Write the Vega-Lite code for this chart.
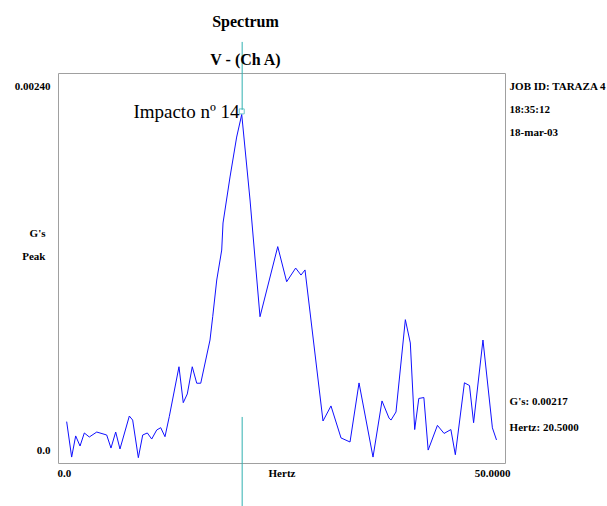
{
  "$schema": "https://vega.github.io/schema/vega-lite/v6.json",
  "autosize": "none",
  "width": 447,
  "height": 390,
  "padding": {"left": 58, "top": 73, "right": 102, "bottom": 43},
  "background": "white",
  "config": {
    "view": {"stroke": "#a0a0a0", "strokeWidth": 1},
    "font": "Liberation Serif"
  },
  "title": {
    "text": "Spectrum",
    "subtitle": "V  - (Ch A)",
    "anchor": "middle",
    "frame": "group",
    "dx": -36,
    "dy": 31,
    "offset": 4,
    "font": "Liberation Serif",
    "fontSize": 16,
    "fontWeight": "bold",
    "color": "black",
    "subtitleFont": "Liberation Serif",
    "subtitleFontSize": 16,
    "subtitleFontWeight": "bold",
    "subtitleColor": "black",
    "subtitlePadding": 22
  },
  "datasets": {
    "spectrum": [
      {"hz": 0.42, "g": 0.000234},
      {"hz": 0.99, "g": 0.000006},
      {"hz": 1.45, "g": 0.000142},
      {"hz": 1.95, "g": 0.000077},
      {"hz": 2.44, "g": 0.000161},
      {"hz": 3.01, "g": 0.000135},
      {"hz": 3.86, "g": 0.000167},
      {"hz": 5.0, "g": 0.000148},
      {"hz": 5.49, "g": 0.000064},
      {"hz": 6.03, "g": 0.000167},
      {"hz": 6.52, "g": 0.000058},
      {"hz": 7.59, "g": 0.00027},
      {"hz": 7.97, "g": 0.000244},
      {"hz": 8.62, "g": 0.000002},
      {"hz": 9.12, "g": 0.000148},
      {"hz": 9.65, "g": 0.000161},
      {"hz": 10.15, "g": 0.000122},
      {"hz": 10.72, "g": 0.00018},
      {"hz": 11.18, "g": 0.000195},
      {"hz": 11.67, "g": 0.000137},
      {"hz": 12.16, "g": 0.000266},
      {"hz": 13.27, "g": 0.000587},
      {"hz": 13.76, "g": 0.000356},
      {"hz": 14.22, "g": 0.000412},
      {"hz": 14.79, "g": 0.000587},
      {"hz": 15.3, "g": 0.000481},
      {"hz": 15.76, "g": 0.000481},
      {"hz": 16.82, "g": 0.000759},
      {"hz": 17.13, "g": 0.000909},
      {"hz": 17.59, "g": 0.001145},
      {"hz": 18.16, "g": 0.001338},
      {"hz": 18.31, "g": 0.001512},
      {"hz": 19.11, "g": 0.001808},
      {"hz": 19.87, "g": 0.002065},
      {"hz": 20.45, "g": 0.00221},
      {"hz": 21.4, "g": 0.00166},
      {"hz": 22.54, "g": 0.000909},
      {"hz": 24.57, "g": 0.00136},
      {"hz": 25.59, "g": 0.001134},
      {"hz": 26.62, "g": 0.001222},
      {"hz": 27.23, "g": 0.001177},
      {"hz": 27.69, "g": 0.00121},
      {"hz": 29.75, "g": 0.000238},
      {"hz": 30.66, "g": 0.000335},
      {"hz": 31.81, "g": 0.000129},
      {"hz": 32.84, "g": 0.000103},
      {"hz": 33.87, "g": 0.000483},
      {"hz": 35.47, "g": 0.000006},
      {"hz": 36.5, "g": 0.000367},
      {"hz": 37.3, "g": 0.000257},
      {"hz": 37.53, "g": 0.000244},
      {"hz": 38.1, "g": 0.000296},
      {"hz": 39.17, "g": 0.00089},
      {"hz": 39.74, "g": 0.00074},
      {"hz": 40.24, "g": 0.000183},
      {"hz": 40.71, "g": 0.000383},
      {"hz": 41.29, "g": 0.000389},
      {"hz": 41.78, "g": 0.000051},
      {"hz": 42.84, "g": 0.00021},
      {"hz": 43.6, "g": 0.000158},
      {"hz": 44.38, "g": 0.000183},
      {"hz": 44.89, "g": 0.000021},
      {"hz": 45.93, "g": 0.000484},
      {"hz": 46.51, "g": 0.000466},
      {"hz": 46.98, "g": 0.000227},
      {"hz": 48.05, "g": 0.000759},
      {"hz": 49.13, "g": 0.000194},
      {"hz": 49.6, "g": 0.000116}
    ],
    "cursor": [
      {"hz": 20.5, "g1": 0.002677, "g2": 0.00224},
      {"hz": 20.5, "g1": 0.000264, "g2": -0.000309}
    ],
    "info": [
      {"label": "JOB ID: TARAZA 4", "g": 0.002387},
      {"label": "18:35:12", "g": 0.002239},
      {"label": "18-mar-03", "g": 0.002091},
      {"label": "G's: 0.00217", "g": 0.00036},
      {"label": "Hertz: 20.5000", "g": 0.000193}
    ],
    "note": [
      {"label": "Impacto nº 14", "hz": 20.2, "g": 0.002226}
    ],
    "marker": [
      {"hz": 20.45, "g": 0.00223}
    ]
  },
  "layer": [
    {
      "data": {"name": "spectrum"},
      "mark": {"type": "line", "color": "#1010ff", "strokeWidth": 1},
      "encoding": {
        "x": {
          "field": "hz",
          "type": "quantitative",
          "scale": {"domain": [-0.572, 50.572], "nice": false, "zero": false},
          "axis": {
            "values": [0, 50],
            "labelExpr": "datum.value == 0 ? '0.0' : '50.0000'",
            "title": "Hertz",
            "titleFont": "Liberation Serif",
            "titleFontSize": 11,
            "titleFontWeight": "bold",
            "titleColor": "black",
            "titleBaseline": "top",
            "titleY": 4,
            "labelFont": "Liberation Serif",
            "labelFontSize": 11,
            "labelFontWeight": "bold",
            "labelColor": "black",
            "labelBaseline": "top",
            "labelPadding": 4,
            "labelOffset": {"condition": {"test": "datum.value == 50", "value": -8}, "value": 1},
            "ticks": false,
            "domain": false,
            "grid": false
          }
        },
        "y": {
          "field": "g",
          "type": "quantitative",
          "scale": {"domain": [-0.0000322, 0.002477], "nice": false, "zero": false},
          "axis": {
            "values": [0, 0.0024],
            "labelExpr": "datum.value == 0 ? '0.0' : '0.00240'",
            "title": ["G's", "Peak"],
            "titleAngle": 0,
            "titleAlign": "right",
            "titleBaseline": "middle",
            "titleX": -13,
            "titleY": 160,
            "titleLineHeight": 23,
            "titleFont": "Liberation Serif",
            "titleFontSize": 11,
            "titleFontWeight": "bold",
            "titleColor": "black",
            "labelFont": "Liberation Serif",
            "labelFontSize": 11,
            "labelFontWeight": "bold",
            "labelColor": "black",
            "labelPadding": 8,
            "labelOffset": {"condition": {"test": "datum.value == 0", "value": -7}, "value": 2},
            "ticks": false,
            "domain": false,
            "grid": false
          }
        }
      }
    },
    {
      "data": {"name": "cursor"},
      "mark": {"type": "rule", "color": "#2fb0b0", "strokeWidth": 1},
      "encoding": {
        "x": {"field": "hz", "type": "quantitative"},
        "y": {"field": "g1", "type": "quantitative"},
        "y2": {"field": "g2"}
      }
    },
    {
      "data": {"name": "marker"},
      "mark": {"type": "point", "shape": "square", "size": 25, "filled": false, "color": "#2fb0b0", "strokeWidth": 1},
      "encoding": {
        "x": {"field": "hz", "type": "quantitative"},
        "y": {"field": "g", "type": "quantitative"}
      }
    },
    {
      "data": {"name": "note"},
      "mark": {"type": "text", "align": "right", "baseline": "middle", "font": "Liberation Serif", "fontSize": 19, "color": "black"},
      "encoding": {
        "x": {"field": "hz", "type": "quantitative"},
        "y": {"field": "g", "type": "quantitative"},
        "text": {"field": "label"}
      }
    },
    {
      "data": {"name": "info"},
      "mark": {"type": "text", "align": "left", "baseline": "middle", "font": "Liberation Serif", "fontSize": 11, "fontWeight": "bold", "color": "black"},
      "encoding": {
        "x": {"datum": 51.1, "type": "quantitative"},
        "y": {"field": "g", "type": "quantitative"},
        "text": {"field": "label"}
      }
    }
  ]
}
